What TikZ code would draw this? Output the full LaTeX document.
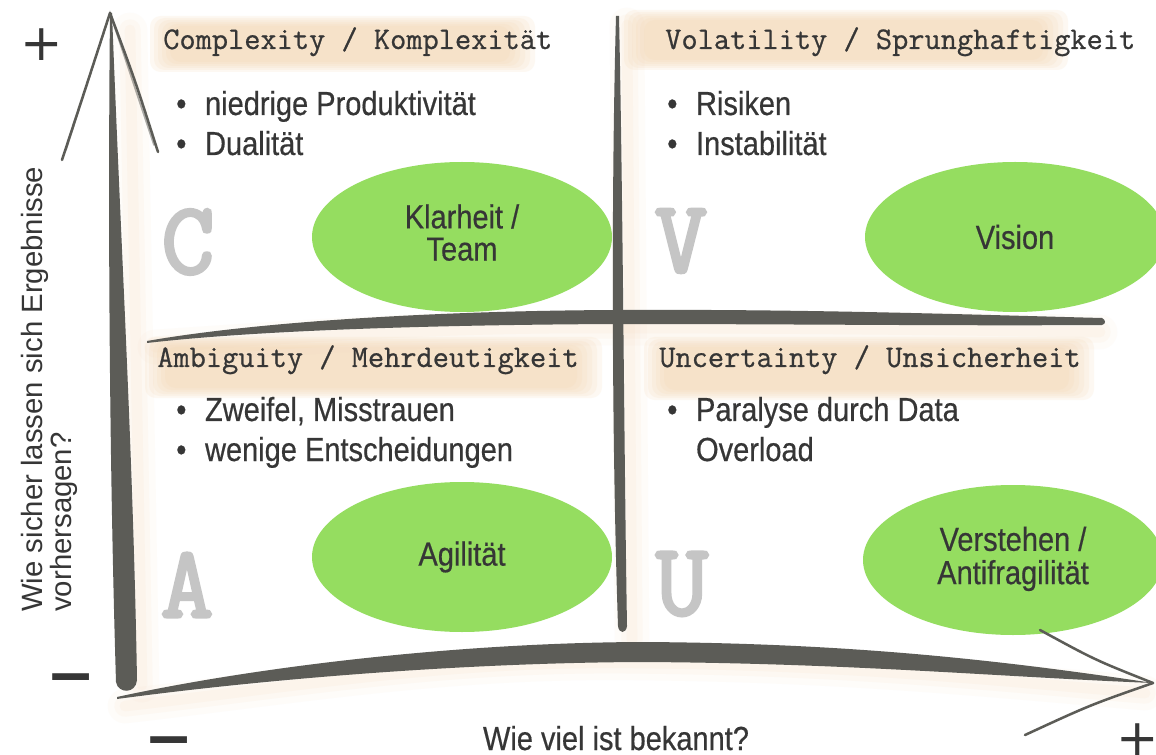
\documentclass[tikz,border=0pt]{standalone}
\usepackage{fontspec}
\setmainfont{Liberation Sans}
\setmonofont{Latin Modern Mono}[FakeBold=0.7]
\newfontfamily\condfont{Liberation Sans}[FakeStretch=0.87, FakeBold=0.5]
\newfontfamily\ghostfont{Latin Modern Mono}[FakeBold=3]
\newfontfamily\signfont{DejaVu Sans}
\newfontfamily\signbold{DejaVu Sans Bold}
\usetikzlibrary{shapes.geometric}
\definecolor{axisgray}{HTML}{5C5C57}
\definecolor{leafgreen}{HTML}{95DD60}
\definecolor{inkgray}{HTML}{363636}
\definecolor{sand}{HTML}{F3D3AC}
\definecolor{glowc}{HTML}{F8D9BC}
\definecolor{ghost}{HTML}{C5C5C5}
\newcommand\brushbox[4]{\foreach \k in {0,...,5}{\fill[sand, opacity=.15, rounded corners=8pt] ({#1+4*\k},{#2+2*\k}) rectangle ({#3-5*\k},{#4-2*\k});}}
\tikzset{
  head/.style={font=\ttfamily\fontsize{23.6}{26}\selectfont, text=inkgray, anchor=base west, inner sep=0pt},
  blist/.style={font=\condfont\fontsize{25}{30}\selectfont, text=inkgray, anchor=base west, inner sep=0pt},
  blob/.style={ellipse, fill=leafgreen, minimum width=225pt, minimum height=112.5pt, inner sep=0pt, align=center, font=\condfont\fontsize{25}{23}\selectfont, text=inkgray},
  ghostletter/.style={font=\ghostfont\fontsize{77}{77}\selectfont, text=ghost, inner sep=0pt},
  plussign/.style={font=\signfont\fontsize{38}{38}\selectfont, text=inkgray, inner sep=0pt, anchor=base},
  minussign/.style={font=\signbold\fontsize{44}{44}\selectfont, text=inkgray, inner sep=0pt, anchor=base},
  axisfill/.style={fill=axisgray},
  headline/.style={draw=axisgray, line width=1.9pt, line cap=round},
  glowline/.style={draw=glowc, line cap=round}
}
\begin{document}
\begin{tikzpicture}[x=0.75pt,y=-0.75pt]
\useasboundingbox (0,0) rectangle (1156,755);
\fill[white] (0,0) rectangle (1156,755);

% soft glow along the axes
\foreach \w/\o in {26/.08,16/.1,8/.12}{
  \draw[glowline, line width=\w pt, opacity=\o] (130,30) -- (142,685);
  \draw[glowline, line width=\w pt, opacity=\o] (125,706) .. controls (300,686) and (450,660) .. (640,663) .. controls (850,665) and (1000,681) .. (1145,693);
  \draw[glowline, line width=\w pt, opacity=\o] (155,347) .. controls (300,337) and (450,327) .. (615,328) .. controls (800,328) and (950,330) .. (1100,332);
  \draw[glowline, line width=\w pt, opacity=\o] (627,25) -- (632,640);
}

% brush backgrounds of the headings
\brushbox{150}{16}{535}{72}
\brushbox{624}{10}{1068}{70}
\brushbox{145}{337}{602}{398}
\brushbox{644}{337}{1094}{400}

% ghost letters
\node[ghostletter] (gC) at (188,242) {C};
\node[ghostletter] (gV) at (681,241) {V};
\node[ghostletter] (gA) at (187,585) {A};
\node[ghostletter] (gU) at (682,584) {U};

% ellipses
\node[blob] (klar) at (462,237) {\raisebox{-4pt}{\begin{tabular}{@{}c@{}}Klarheit /\\Team\end{tabular}}};
\node[blob] (vision) at (1015,237) {Vision};
\node[blob] (agil) at (462,557) {Agilität};
\node[blob] (verst) at (1013,560) {\raisebox{-3pt}{\begin{tabular}{@{}c@{}}Verstehen /\\Antifragilität\end{tabular}}};

% vertical main axis
\fill[axisfill] (110,13) .. controls (108,200) and (109,450) .. (116,682)
  .. controls (118,694) and (136,694) .. (137,680)
  .. controls (133,450) and (121,250) .. (112,13) -- cycle;
% bottom horizontal axis
\fill[axisfill] (117,697) .. controls (250,668) and (450,643) .. (640,642)
  .. controls (850,643) and (1000,660) .. (1153,683)
  .. controls (1000,677) and (850,663) .. (640,662)
  .. controls (450,663) and (250,681) .. (117,699) -- cycle;
% middle horizontal line
\fill[axisfill] (147,341) .. controls (250,323) and (420,311) .. (615,310)
  .. controls (800,309) and (950,314) .. (1102,318)
  .. controls (1106,320) and (1106,324) .. (1102,325)
  .. controls (950,326) and (800,324) .. (615,324)
  .. controls (420,325) and (250,331) .. (147,343) -- cycle;
% middle vertical line
\fill[axisfill] (616,16) .. controls (611,200) and (612,450) .. (618,626)
  .. controls (619,634) and (626,634) .. (627,626)
  .. controls (624,450) and (623,200) .. (619,16) -- cycle;

% arrow heads
\coordinate (ytip) at (110,13);
\coordinate (yl) at (62,160);
\coordinate (yr) at (158,152);
\draw[headline] (yl) .. controls (85,90) .. (ytip);
\draw[headline] (ytip) .. controls (135,80) .. (yr);
\draw[headline, opacity=.5, line width=1.2pt] (66,150) -- (ytip) -- (154,145);
\coordinate (xtip) at (1153,683);
\coordinate (xu) at (1040,630);
\coordinate (xd) at (1025,735);
\draw[headline] (xu) .. controls (1095,660) .. (xtip);
\draw[headline] (xtip) .. controls (1090,705) .. (xd);

% signs
\node[plussign] (plusy) at (42,43) {\smash{\raisebox{-13.5pt}{+}}};
\node[plussign] (plusx) at (1138,737) {\smash{\raisebox{-13.5pt}{+}}};
\node[minussign] (minusy) at (71,677) {\smash{\raisebox{-13.5pt}{−}}};
\node[minussign] (minusx) at (169,740) {\smash{\raisebox{-13.5pt}{−}}};

% headings
\node[head] (hC) at (163,49) {Complexity / Komplexität};
\node[head] (hV) at (665,49) {Volatility / Sprunghaftigkeit};
\node[head] (hA) at (157,367) {Ambiguity / Mehrdeutigkeit};
\node[head] (hU) at (659,367) {Uncertainty / Unsicherheit};

% bullet lists
\node[blist] (lC) at (176,115) {\begin{tabular}[t]{@{}l@{\hspace{14pt}}l@{}}•&niedrige Produktivität\\•&Dualität\end{tabular}};
\node[blist] (lV) at (667,115) {\begin{tabular}[t]{@{}l@{\hspace{14pt}}l@{}}•&Risiken\\•&Instabilität\end{tabular}};
\node[blist] (lA) at (176,421) {\begin{tabular}[t]{@{}l@{\hspace{14pt}}l@{}}•&Zweifel, Misstrauen\\•&wenige Entscheidungen\end{tabular}};
\node[blist] (lU) at (667,421) {\begin{tabular}[t]{@{}l@{\hspace{14pt}}l@{}}•&Paralyse durch Data\\&Overload\end{tabular}};

% axis labels
\node[rotate=90, anchor=north west, align=left, inner sep=0pt, text=inkgray, font=\fontsize{22}{19}\selectfont] (ylab) at (21,612) {Wie sicher lassen sich Ergebnisse\\vorhersagen?};
\node[anchor=base, inner sep=0pt, text=inkgray, font=\condfont\fontsize{25}{30}\selectfont] (xlab) at (616,750) {Wie viel ist bekannt?};
\end{tikzpicture}
\end{document}
